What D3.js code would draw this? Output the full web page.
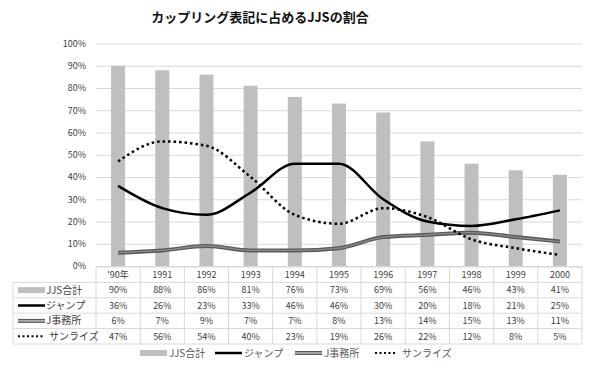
<!DOCTYPE html>
<html><head><meta charset="utf-8">
<script src="https://cdn.jsdelivr.net/npm/d3@7/dist/d3.min.js"></script>
<style>
body{margin:0;background:#fff;}
text{font-family:"Noto Sans CJK JP","Noto Sans",sans-serif;}
</style></head>
<body><svg id="c" width="590" height="377"></svg>
<script>
const categories = ["'90年","1991","1992","1993","1994","1995","1996","1997","1998","1999","2000"];
const jjsTotal   = [90,88,86,81,76,73,69,56,46,43,41];
const jump       = [36,26,23,33,46,46,30,20,18,21,25];
const jOffice    = [6,7,9,7,7,8,13,14,15,13,11];
const sunrise    = [47,56,54,40,23,19,26,22,12,8,5];
const yTicks     = [0,10,20,30,40,50,60,70,80,90,100];
const seriesNames = ["JJS合計","ジャンプ","J事務所","サンライズ"];

const svg = d3.select("#c");
const pL = 96, pR = 582, pT = 43.5, pB = 266;
const x = d3.scaleBand().domain(categories).range([pL, pR]).padding(0);
const y = d3.scaleLinear().domain([0,100]).range([pB, pT]);

// title
svg.append("text").attr("x", 260).attr("y", 22).attr("text-anchor","middle")
  .attr("font-size", 13).attr("font-weight","bold").attr("fill","#111")
  .text("カップリング表記に占めるJJSの割合");

// gridlines + y axis
const yAxis = d3.axisLeft(y).tickValues(yTicks).tickSize(-(pR-pL)).tickPadding(10)
  .tickFormat(d => d + "%");
const ga = svg.append("g").attr("transform", `translate(${pL},0)`).call(yAxis);
ga.select(".domain").remove();
ga.selectAll(".tick line").attr("stroke","#d9d9d9").attr("stroke-width",1);
ga.selectAll(".tick text").attr("font-size", 9).attr("fill","#404040")
  .attr("font-family","'Noto Sans','DejaVu Sans',sans-serif");

// bars
const bw = 14;
svg.append("g").selectAll("rect").data(jjsTotal).join("rect")
  .attr("x", (d,i) => x(categories[i]) + x.bandwidth()/2 - bw/2)
  .attr("y", d => y(d)).attr("width", bw).attr("height", d => pB - y(d))
  .attr("fill","#bfbfbf");

const cx = i => x(categories[i]) + x.bandwidth()/2;
const line = d3.line().x((d,i) => cx(i)).y(d => y(d)).curve(d3.curveMonotoneX);

// J office: double line
svg.append("path").attr("d", line(jOffice)).attr("fill","none")
  .attr("stroke","#595959").attr("stroke-width",4);
svg.append("path").attr("d", line(jOffice)).attr("fill","none")
  .attr("stroke","#8c8c8c").attr("stroke-width",1.3);
// sunrise dotted
svg.append("path").attr("d", line(sunrise)).attr("fill","none")
  .attr("stroke","#000").attr("stroke-width",2.5).attr("stroke-dasharray","2.5,3");
// jump
svg.append("path").attr("d", line(jump)).attr("fill","none")
  .attr("stroke","#000").attr("stroke-width",2.5);

// data table
const rowH = 15.4;
const tTop = 267;
const rows = [jjsTotal, jump, jOffice, sunrise];
const tbl = svg.append("g");
const gridC = "#d9d9d9";
tbl.append("line").attr("x1", pL).attr("x2", pR).attr("y1", tTop).attr("y2", tTop).attr("stroke", gridC);
for (let r = 1; r <= rows.length + 1; r++) {
  tbl.append("line").attr("x1", 13).attr("x2", pR)
    .attr("y1", tTop + r*rowH).attr("y2", tTop + r*rowH).attr("stroke", gridC);
}
categories.forEach((c,i) => {
  tbl.append("line").attr("x1", x(c)).attr("x2", x(c)).attr("y1", tTop).attr("y2", tTop + 5*rowH).attr("stroke", gridC);
});
tbl.append("line").attr("x1", pR).attr("x2", pR).attr("y1", tTop).attr("y2", tTop + 5*rowH).attr("stroke", gridC);
tbl.append("line").attr("x1", 13).attr("x2", 13).attr("y1", tTop + rowH).attr("y2", tTop + 5*rowH).attr("stroke", gridC);

tbl.selectAll("text.h").data(categories).join("text").attr("class","h")
  .attr("x", (d,i) => cx(i)).attr("y", tTop + rowH/2 + 3.3).attr("text-anchor","middle")
  .attr("font-size", 9).attr("fill","#404040").text(d => d);
rows.forEach((vals, r) => {
  tbl.append("g").selectAll("text").data(vals).join("text")
    .attr("x", (d,i) => cx(i)).attr("y", tTop + (r+1)*rowH + rowH/2 + 3.3)
    .attr("text-anchor","middle").attr("font-size", 9).attr("fill","#404040")
    .attr("font-family","'Noto Sans','DejaVu Sans',sans-serif")
    .text(d => d + "%");
});

function key(g, idx, x0, yc, w) {
  if (idx === 0) {
    g.append("rect").attr("x", x0).attr("y", yc-3).attr("width", w).attr("height", 6).attr("fill","#bfbfbf");
  } else if (idx === 1) {
    g.append("line").attr("x1", x0).attr("x2", x0+w).attr("y1", yc).attr("y2", yc).attr("stroke","#000").attr("stroke-width",2.5);
  } else if (idx === 2) {
    g.append("line").attr("x1", x0).attr("x2", x0+w).attr("y1", yc).attr("y2", yc).attr("stroke","#595959").attr("stroke-width",4);
    g.append("line").attr("x1", x0).attr("x2", x0+w).attr("y1", yc).attr("y2", yc).attr("stroke","#d0d0d0").attr("stroke-width",1.2);
  } else {
    g.append("line").attr("x1", x0).attr("x2", x0+w).attr("y1", yc).attr("y2", yc).attr("stroke","#000").attr("stroke-width",2).attr("stroke-dasharray","2,2.5");
  }
}
seriesNames.forEach((n, r) => {
  const yc = tTop + (r+1)*rowH + rowH/2;
  key(tbl, r, 18, yc, 27);
  tbl.append("text").attr("x", r === 3 ? 49 : 46).attr("y", yc + 3.5).attr("font-size", 10)
    .attr("fill","#404040").text(n);
});

const lg = svg.append("g");
const lx = [140, 215, 295, 375];
seriesNames.forEach((n, i) => {
  key(lg, i, lx[i], 353, i === 3 ? 22 : 27);
  lg.append("text").attr("x", lx[i] + (i === 3 ? 27 : 29)).attr("y", 356.5).attr("font-size", 10)
    .attr("fill","#595959").text(n);
});
</script></body></html>
